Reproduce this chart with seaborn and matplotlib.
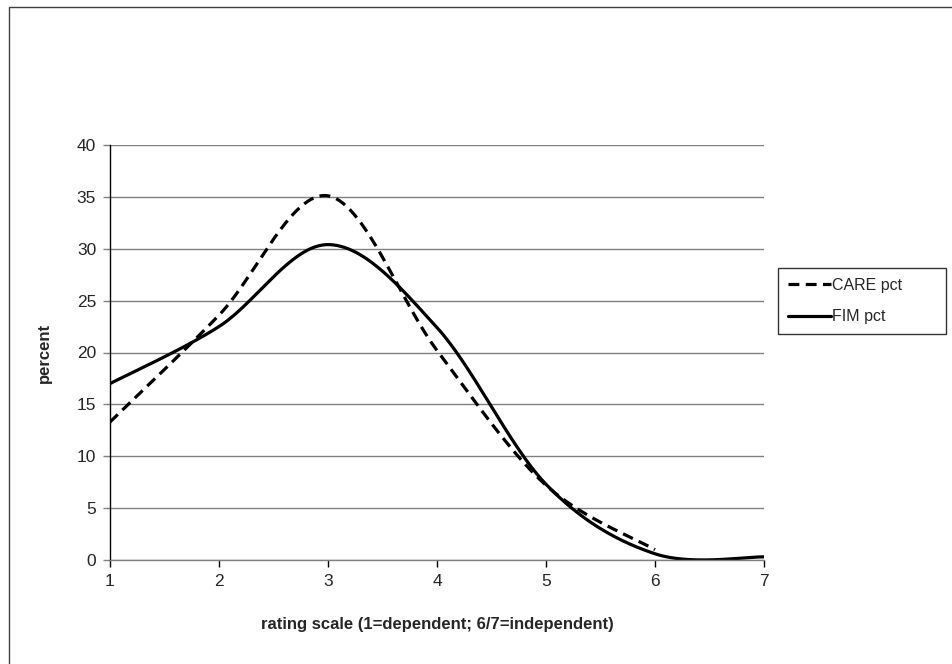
import numpy as np
import pandas as pd
import matplotlib
matplotlib.use("Agg")
import matplotlib.pyplot as plt
import seaborn as sns
from matplotlib.patches import Rectangle

# ---- data ----
care_x = [1, 2, 3, 4, 5, 6]
care_pct = [13.3, 23.6, 35.1, 20.2, 7.2, 1.0]
fim_x = [1, 2, 3, 4, 5, 6, 7]
fim_pct = [17.0, 22.5, 30.4, 22.4, 7.3, 0.6, 0.3]
x_ticks = [1, 2, 3, 4, 5, 6, 7]
y_ticks = [0, 5, 10, 15, 20, 25, 30, 35, 40]


def smooth(xs, ys, n=60):
    """Excel-like smoothed line: cubic Bezier through the points."""
    P = np.column_stack([xs, ys]).astype(float)
    m = len(P)
    out = []
    for i in range(m - 1):
        p0, p3 = P[i], P[i + 1]
        prev = P[i - 1] if i > 0 else P[i]
        nxt = P[i + 2] if i + 2 < m else P[i + 1]
        c1 = p0 + (p3 - prev) / 6.0
        c2 = p3 - (nxt - p0) / 6.0
        t = np.linspace(0, 1, n)[:, None]
        seg = ((1 - t) ** 3) * p0 + 3 * ((1 - t) ** 2) * t * c1 + 3 * (1 - t) * t ** 2 * c2 + t ** 3 * p3
        out.append(seg if i == 0 else seg[1:])
    s = np.vstack(out)
    return s[:, 0], s[:, 1]


sns.set_style("white")
plt.rcParams["font.family"] = ["Liberation Sans", "DejaVu Sans"]

fig = plt.figure(figsize=(9.52, 6.64), dpi=100)
W, H = 952, 664
ax = fig.add_axes([110 / W, (H - 560) / H, (764 - 110) / W, (560 - 145) / H])

cx, cy = smooth(care_x, care_pct)
fx, fy = smooth(fim_x, fim_pct)
care_df = pd.DataFrame({"x": cx, "y": cy})
fim_df = pd.DataFrame({"x": fx, "y": fy})

sns.lineplot(data=care_df, x="x", y="y", ax=ax, color="black", lw=2.3,
             linestyle=(0, (3.4, 2.0)), sort=False, label="CARE pct", legend=False)
sns.lineplot(data=fim_df, x="x", y="y", ax=ax, color="black", lw=2.3,
             sort=False, label="FIM pct", legend=False)

ax.set_xlim(1, 7)
ax.set_ylim(0, 40)
ax.set_xticks(x_ticks)
ax.set_yticks(y_ticks)
ax.set_xticklabels([str(v) for v in x_ticks], fontsize=12.5)
ax.set_yticklabels([str(v) for v in y_ticks], fontsize=12.5)
ax.yaxis.grid(True, color="#808080", lw=1.0)
ax.xaxis.grid(False)
ax.set_axisbelow(True)
for s in ["top", "right"]:
    ax.spines[s].set_visible(False)
ax.spines["left"].set_color("black")
ax.spines["left"].set_linewidth(1.0)
ax.spines["bottom"].set_color("#808080")
ax.spines["bottom"].set_linewidth(1.0)
ax.tick_params(axis="y", direction="out", length=5, width=1, color="#808080", pad=5, left=True)
ax.tick_params(axis="x", direction="out", length=5, width=1, color="black", pad=5, bottom=True)

ax.set_xlabel("rating scale (1=dependent; 6/7=independent)", fontsize=12,
              fontweight="bold", labelpad=20)
ax.set_ylabel("percent", fontsize=12, fontweight="bold", labelpad=18)

h, l = ax.get_legend_handles_labels()
leg = fig.legend(h, l, loc="upper left",
                 bbox_to_anchor=(778 / W, (H - 268) / H, (946 - 778) / W, 0),
                 mode="expand", frameon=True, fancybox=False, edgecolor="black",
                 fontsize=11.5, handlelength=2.7, handletextpad=0.1,
                 labelspacing=1.05, borderpad=0.6, borderaxespad=0)
leg.get_frame().set_linewidth(1.0)

# outer chart frame (cut at right and bottom as in the reference)
fig.patches.append(Rectangle((9 / W, -0.05), 1.2, (H - 7) / H + 0.05,
                             transform=fig.transFigure, fill=False,
                             edgecolor="#404040", lw=1.0))

fig.savefig("out.png", dpi=100)
